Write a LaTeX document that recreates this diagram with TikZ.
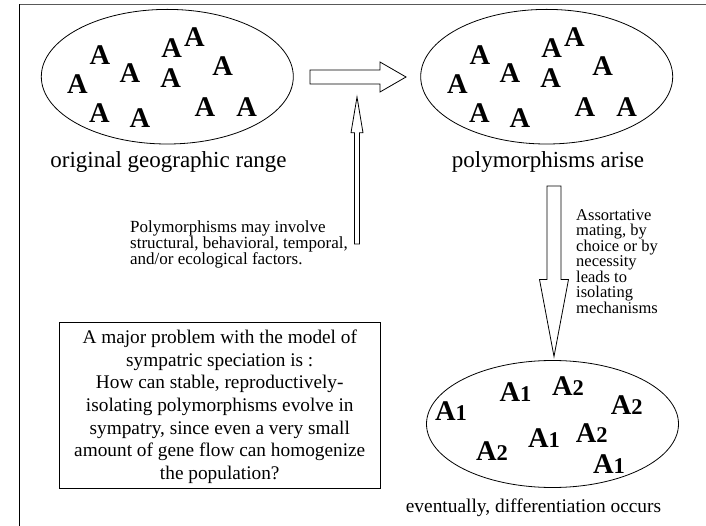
\documentclass[tikz,border=0pt]{standalone}
\usepackage{fontspec}
\setmainfont{Liberation Serif}
\usetikzlibrary{shapes.geometric}
\begin{document}
\begin{tikzpicture}[x=1pt,y=-1pt,
  popregion/.style={draw, ellipse, line width=0.8pt, inner sep=0pt, minimum width=252pt, minimum height=134.6pt},
  biga/.style={font=\fontsize{28.5}{28.5}\selectfont\bfseries, inner sep=0pt},
  capttext/.style={font=\fontsize{23}{23}\selectfont, inner sep=0pt, anchor=base},
  notetext/.style={font=\fontsize{17}{15.5}\selectfont, align=left, inner sep=0pt, anchor=base west},
  blockarrow/.style={draw, line width=0.8pt, fill=white, line join=miter}
]
\useasboundingbox (0,0) rectangle (706,526);
\fill[white] (0,0) rectangle (706,526);
\draw[line width=0.8pt] (19.5,526) -- (19.5,4.3);
\draw[line width=1pt, black!65] (19.5,4.3) -- (706,4.3);

% ellipses
\node[popregion] (orig) at (167.3,76.7) {};
\node[popregion] (poly) at (546.7,76.7) {};
\node[popregion, minimum height=127pt] (diff) at (552.5,424) {};

% A's in the original range
\foreach \x/\y [count=\i] in {100/55, 171.7/48, 194.3/37, 130/73, 170.7/78, 222.7/66, 77.3/84, 99.3/113, 140/118, 205/107, 246.7/107}
  \node[biga] (oa\i) at (\x,\y) {A};
% A's in the polymorphic range
\foreach \x/\y [count=\i] in {100/55, 171.7/48, 194.3/37, 130/73, 170.7/78, 222.7/66, 77.3/84, 99.3/113, 140/118, 205/107, 246.7/107}
  \node[biga] (pa\i) at (\x+380,\y) {A};
% differentiated forms
\foreach \x/\y/\d [count=\i] in {451/411/1, 515.5/392.5/1, 568/386/2, 626.7/404.7/2, 492/451/2, 544/438/1, 591.7/433/2, 609/464/1}
  \node[biga] (da\i) at (\x,\y) {A{\fontsize{22.5}{22.5}\selectfont\d}};

% captions
\node[capttext] (c1) at (168.5,167.5) {original geographic range};
\node[capttext] (c2) at (548,167.5) {polymorphisms arise};
\node[capttext, font=\fontsize{19.4}{19.4}\selectfont] (c3) at (533.5,512) {eventually, differentiation occurs};

% notes (anchored at the baseline of their last line)
\node[notetext] (n1) at (130,265) {Polymorphisms may involve\\structural, behavioral, temporal,\\and/or ecological factors.};
\node[notetext, font=\fontsize{16.5}{15}\selectfont] (n2) at (576,313.3) {Assortative\\mating, by\\choice or by\\necessity\\leads to\\isolating\\mechanisms};

% problem box
\node[draw, line width=0.8pt, minimum width=320.5pt, minimum height=166.3pt, inner sep=0pt] (box) at (219.75,405.15) {};
\node[inner sep=0pt, align=center, anchor=base, font=\fontsize{19.3}{22.6}\selectfont] (boxtext) at (219.75,479.3)
  {A major problem with the model of\\sympatric speciation is :\\How can stable, reproductively-\\isolating polymorphisms evolve in\\sympatry, since even a very small\\amount of gene flow can homogenize\\the population?};

% block arrows
\draw[blockarrow] (310,70) -- (380,70) -- (380,62) -- (406,77) -- (380,92) -- (380,84) -- (310,84) -- cycle;
\draw[blockarrow] (354.5,244) -- (354.5,132.7) -- (351,132.7) -- (357,97) -- (363,132.7) -- (359.5,132.7) -- (359.5,244) -- cycle;
\draw[blockarrow] (547,186) -- (561,186) -- (561,279.5) -- (568.5,279.5) -- (554,356.5) -- (539.5,279.5) -- (547,279.5) -- cycle;
\end{tikzpicture}
\end{document}
